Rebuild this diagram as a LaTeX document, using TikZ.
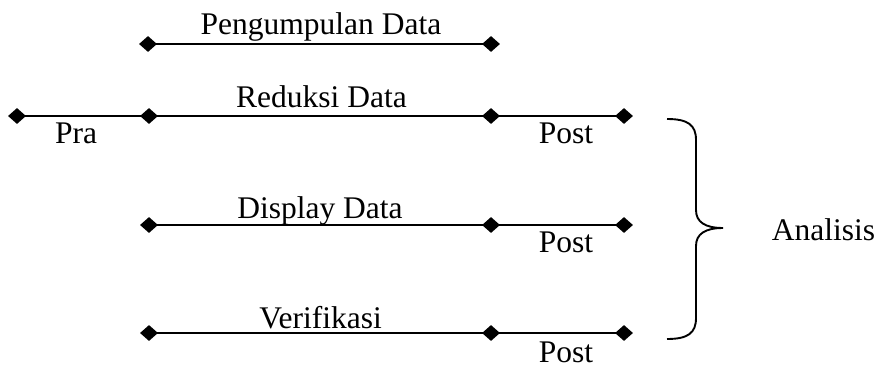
\documentclass[tikz,border=0pt]{standalone}
\usepackage{fontspec}
\setmainfont{Liberation Serif}
\usetikzlibrary{shapes.geometric}
\begin{document}
\begin{tikzpicture}[x=1pt,y=-1pt,
  dot/.style={diamond,fill=black,inner sep=0pt,minimum width=18pt,minimum height=16pt},
  seg/.style={line width=1.9pt},
  lbl/.style={anchor=base,inner sep=0pt,font=\fontsize{31.5}{36}\selectfont}]
\useasboundingbox (0,0) rectangle (877,369);

% timeline rows
\node[dot] (a1) at (148,44) {};
\node[dot] (a2) at (491,44) {};

\node[dot] (b0) at (17,116) {};
\node[dot] (b1) at (149,116) {};
\node[dot] (b2) at (491,116) {};
\node[dot] (b3) at (624,116) {};

\node[dot] (c1) at (149,225) {};
\node[dot] (c2) at (491,225) {};
\node[dot] (c3) at (624,225) {};

\node[dot] (d1) at (149,333) {};
\node[dot] (d2) at (491,333) {};
\node[dot] (d3) at (624,333) {};

\draw[seg] (a1.center) -- (a2.center);
\draw[seg] (b0.center) -- (b1.center) -- (b2.center) -- (b3.center);
\draw[seg] (c1.center) -- (c2.center) -- (c3.center);
\draw[seg] (d1.center) -- (d2.center) -- (d3.center);

% labels
\node[lbl] (tpeng) at (321,35) {Pengumpulan Data};
\node[lbl] (tred) at (321.5,107) {Reduksi Data};
\node[lbl] (tdisp) at (320,218) {Display Data};
\node[lbl] (tver) at (320.5,328) {Verifikasi};
\node[lbl] (tpra) at (76,143) {Pra};
\node[lbl] (tpost1) at (566,143) {Post};
\node[lbl] (tpost2) at (566,252) {Post};
\node[lbl] (tpost3) at (566,362) {Post};
\node[lbl] (tana) at (823.5,240) {Analisis};

% closing brace
\draw[line width=1.9pt]
  (667,119) .. controls (688,119) and (696,125) .. (696,140)
  -- (696,210) .. controls (696,222) and (705,228) .. (723,228)
  .. controls (705,228) and (696,234) .. (696,246)
  -- (696,318) .. controls (696,333) and (688,339) .. (667,339);
\end{tikzpicture}
\end{document}
